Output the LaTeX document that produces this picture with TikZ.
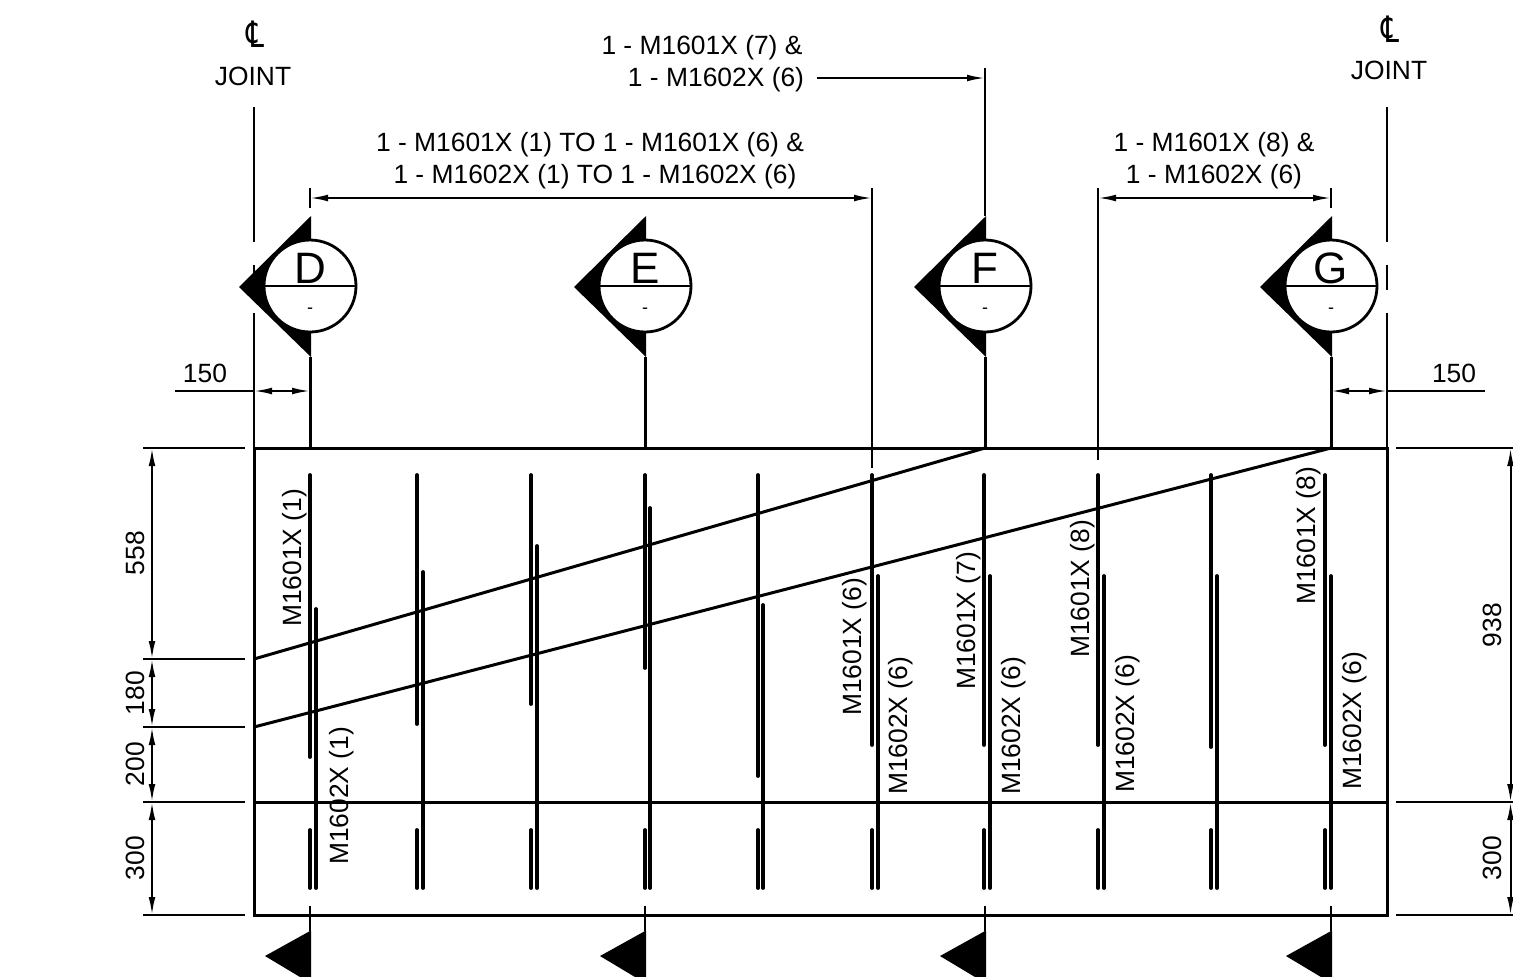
\documentclass[tikz,border=0pt]{standalone}
\usepackage{graphicx}
\usepackage{fontspec}
\setmainfont{Liberation Sans}
\newfontfamily\symfont{DejaVu Sans}
\usetikzlibrary{arrows.meta}
\tikzset{
  dim line/.style={line width=1pt},
  dimarrows/.style={dim line,{Latex[length=9pt,width=3.4pt]}-{Latex[length=9pt,width=3.4pt]}},
  endarrow/.style={dim line,-{Latex[length=9pt,width=3.4pt]}},
  slab/.style={line width=1.5pt},
  rod/.style={line width=1.9pt,line cap=round},
  secline/.style={line width=1.5pt},
  lbl/.style={inner sep=0pt,font=\fontsize{13.2pt}{16pt}\selectfont,align=center},
  vlbl/.style={lbl,rotate=90},
  cl/.style={inner sep=0pt,font=\symfont\fontsize{14pt}{14pt}\selectfont},
  bubble/.style={circle,draw,line width=1.4pt,fill=white,minimum size=46pt,inner sep=0pt},
  letter/.style={inner sep=0pt,font=\fontsize{22pt}{22pt}\selectfont},
  dashlbl/.style={inner sep=0pt,font=\fontsize{9pt}{9pt}\selectfont},
  wedge/.style={fill=black,draw=none},
}
\begin{document}
\begin{tikzpicture}[x=0.5pt,y=-0.5pt]
\useasboundingbox (0,0) rectangle (1513,976);
% slab outline
\coordinate (TL) at (254,448); \coordinate (TR) at (1387,448);
\coordinate (BL) at (254,915); \coordinate (BR) at (1387,915);
\draw[slab] (TL) -- (TR) -- (BR) -- (BL) -- cycle;
\coordinate (HL) at (254,802); \coordinate (HR) at (1387,802);
\draw[slab] (HL) -- (HR);
\coordinate (S1a) at (254,659); \coordinate (S1b) at (985,448);
\coordinate (S2a) at (254,727); \coordinate (S2b) at (1331,448);
\draw[slab] (S1a) -- (S1b);
\draw[slab] (S2a) -- (S2b);
% joint centre lines
\foreach \x in {254,1387}{
  \draw[dim line] (\x,107) -- (\x,242);
  \draw[dim line] (\x,265) -- (\x,290);
  \draw[dim line] (\x,313) -- (\x,448);
}
% rods: top set
\foreach \x/\e in {310/757,417/724,531/704,645/668,758/776,872/745,984/745,1098/745,1211/747,1325/745}{
  \draw[rod] (\x,475) -- (\x,\e);
}
% rods: second set
\foreach \x/\s in {316/609,423/572,537/546,650/508,763/605,878/576,990/576,1104/576,1217/576,1331/576}{
  \draw[rod] (\x,\s) -- (\x,888);
}
% rods: short bottom
\foreach \x in {310,417,531,645,758,872,984,1098,1211,1325}{
  \draw[rod] (\x,830) -- (\x,888);
}
% section wedges and bubbles
\foreach \nm/\x/\t in {D/310/D,E/645/E,F/985/F,G/1331/G}{
  \coordinate (wt\nm) at (\x+1,216);
  \coordinate (wb\nm) at (\x+1,357);
  \fill[wedge] (wt\nm) -- (\x-71,287) -- (wb\nm) -- cycle;
  \draw[secline] (wb\nm -| \x,0) -- (\x,448);
  \node[bubble] (c\nm) at (\x,286) {};
  \draw[line width=1.4pt] (c\nm.west) -- (c\nm.east);
  \node[letter] (l\nm) at (\x,268) {\t};
  \node[dashlbl] (d\nm) at (\x,311) {-};
  % bottom mark
  \coordinate (bt\nm) at (\x,906);
  \coordinate (bm\nm) at (\x,931);
  \draw[dim line] (bt\nm) -- (bm\nm);
  \fill[wedge] (bm\nm) -- (\x-45,956) -- (\x,983) -- (\x+1,983) -- (\x+1,931) -- cycle;
}
% joint headings
\node[cl] (clL) at (255,34) {\scalebox{1}[1.3]{℄}};
\node[lbl] (jL) at (253,76) {JOINT};
\node[cl] (clR) at (1390,29) {\scalebox{1}[1.3]{℄}};
\node[lbl] (jR) at (1389,70) {JOINT};
% offset dimensions 150
\coordinate (o1) at (175,391); \coordinate (o2) at (254,391); \coordinate (o3) at (310,391);
\draw[dim line] (o1) -- (o2);
\draw[dimarrows] (o2) -- (o3);
\node[lbl] (n150L) at (205,373) {150};
\coordinate (o4) at (1331,391); \coordinate (o5) at (1387,391); \coordinate (o6) at (1485,391);
\draw[dim line] (o5) -- (o6);
\draw[dimarrows] (o4) -- (o5);
\node[lbl] (n150R) at (1454,373) {150};
% top notes
\node[lbl] (t7) at (702,48) {1 - M1601X (7) \&};
\node[lbl] (t6) at (716,80) {1 - M1602X (6)};
\coordinate (f1) at (817,78); \coordinate (f2) at (985,78);
\coordinate (f0) at (985,68);
\draw[endarrow] (f1) -- (f2);
\draw[dim line] (f0) -- (wtF -| f0);
\node[lbl] (ta) at (590,145) {1 - M1601X (1) TO 1 - M1601X (6) \&};
\node[lbl] (tb) at (595,177) {1 - M1602X (1) TO 1 - M1602X (6)};
\coordinate (a1) at (310,198); \coordinate (a2) at (872,198);
\draw[dimarrows] (a1) -- (a2);
\draw[dim line] (310,188) -- (310,208);
\draw[dim line] (872,188) -- (872,468);
\node[lbl] (tc) at (1214,145) {1 - M1601X (8) \&};
\node[lbl] (td) at (1214,177) {1 - M1602X (6)};
\coordinate (b1) at (1098,198); \coordinate (b2) at (1331,198);
\draw[dimarrows] (b1) -- (b2);
\draw[dim line] (1098,188) -- (1098,460);
\draw[dim line] (1331,188) -- (1331,208);
% left dimensions
\foreach \y in {448,659,727,802,915}{ \draw[dim line] (143,\y) -- (245,\y); }
\draw[dimarrows] (152,448) -- (152,659);
\draw[dimarrows] (152,659) -- (152,727);
\draw[dimarrows] (152,727) -- (152,802);
\draw[dimarrows] (152,802) -- (152,915);
\node[vlbl] (d558) at (135,553) {558};
\node[vlbl] (d180) at (135,693) {180};
\node[vlbl] (d200) at (135,764) {200};
\node[vlbl] (d300L) at (135,858) {300};
% right dimensions
\foreach \y in {448,802,915}{ \draw[dim line] (1396,\y) -- (1513,\y); }
\draw[dimarrows] (1510.5,448) -- (1510.5,802);
\draw[dimarrows] (1510.5,802) -- (1510.5,915);
\node[vlbl] (d938) at (1492,625) {938};
\node[vlbl] (d300R) at (1492,858) {300};
% rod labels
\node[vlbl] (r1) at (295,558) {M1601X (1)};
\node[vlbl] (r2) at (342,796) {M1602X (1)};
\node[vlbl] (r3) at (855,647) {M1601X (6)};
\node[vlbl] (r4) at (901,726) {M1602X (6)};
\node[vlbl] (r5) at (969,621) {M1601X (7)};
\node[vlbl] (r6) at (1014,726) {M1602X (6)};
\node[vlbl] (r7) at (1083,589) {M1601X (8)};
\node[vlbl] (r8) at (1128,724) {M1602X (6)};
\node[vlbl] (r9) at (1309,536) {M1601X (8)};
\node[vlbl] (r10) at (1355,721) {M1602X (6)};
\end{tikzpicture}
\end{document}
